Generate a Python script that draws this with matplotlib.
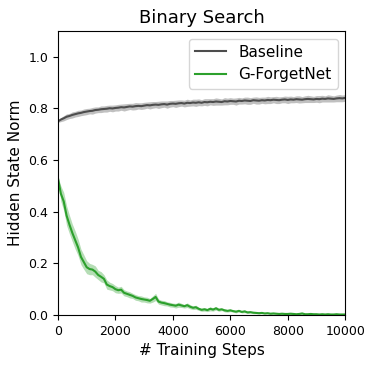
import numpy as np
import matplotlib.pyplot as plt

# training steps sampled every 100
steps = np.arange(0, 10001, 100)

baseline_mean = [
    0.750,
    0.757, 0.762, 0.768, 0.771, 0.775, 0.778, 0.781, 0.783, 0.786,
    0.788, 0.790, 0.791, 0.794, 0.795, 0.797, 0.798, 0.799, 0.801, 0.800,
    0.802, 0.803, 0.805, 0.804, 0.806, 0.808, 0.807, 0.809, 0.810, 0.809,
    0.811, 0.813, 0.812, 0.814, 0.815, 0.814, 0.816, 0.817, 0.815, 0.818,
    0.819, 0.818, 0.820, 0.821, 0.819, 0.822, 0.821, 0.823, 0.822, 0.824,
    0.822, 0.825, 0.824, 0.826, 0.825, 0.827, 0.826, 0.825, 0.828, 0.827,
    0.829, 0.828, 0.827, 0.830, 0.829, 0.831, 0.830, 0.829, 0.832, 0.831,
    0.830, 0.832, 0.831, 0.833, 0.832, 0.834, 0.833, 0.832, 0.834, 0.835,
    0.833, 0.835, 0.834, 0.836, 0.835, 0.834, 0.836, 0.837, 0.836, 0.835,
    0.837, 0.836, 0.838, 0.837, 0.839, 0.838, 0.837, 0.839, 0.840, 0.839,
    0.841,
]
baseline_std = [
    0.004,
    0.008, 0.010, 0.011, 0.010, 0.012, 0.011, 0.012, 0.011, 0.012,
    0.012, 0.011, 0.013, 0.012, 0.011, 0.013, 0.012, 0.013, 0.012, 0.013,
    0.012, 0.013, 0.012, 0.014, 0.013, 0.012, 0.013, 0.014, 0.012, 0.013,
    0.013, 0.012, 0.014, 0.013, 0.012, 0.014, 0.013, 0.012, 0.014, 0.013,
    0.012, 0.014, 0.013, 0.012, 0.013, 0.014, 0.012, 0.013, 0.014, 0.013,
    0.012, 0.013, 0.014, 0.012, 0.013, 0.014, 0.013, 0.012, 0.014, 0.013,
    0.013, 0.012, 0.014, 0.013, 0.012, 0.013, 0.014, 0.013, 0.012, 0.014,
    0.013, 0.012, 0.013, 0.014, 0.013, 0.012, 0.014, 0.013, 0.012, 0.013,
    0.014, 0.013, 0.012, 0.013, 0.014, 0.012, 0.013, 0.014, 0.013, 0.012,
    0.013, 0.014, 0.013, 0.012, 0.014, 0.013, 0.012, 0.013, 0.014, 0.013,
    0.013,
]

forget_mean = [
    0.530,
    0.470, 0.440, 0.385, 0.350, 0.318, 0.290, 0.262, 0.225, 0.205,
    0.185, 0.178, 0.176, 0.168, 0.155, 0.148, 0.140, 0.118, 0.112, 0.108,
    0.100, 0.096, 0.098, 0.086, 0.082, 0.078, 0.074, 0.068, 0.065, 0.062,
    0.060, 0.058, 0.055, 0.062, 0.070, 0.052, 0.048, 0.046, 0.043, 0.040,
    0.038, 0.036, 0.040, 0.037, 0.034, 0.038, 0.032, 0.028, 0.030, 0.024,
    0.020, 0.022, 0.019, 0.024, 0.021, 0.026, 0.020, 0.022, 0.018, 0.016,
    0.018, 0.015, 0.013, 0.016, 0.012, 0.014, 0.010, 0.011, 0.009, 0.008,
    0.007, 0.008, 0.006, 0.007, 0.005, 0.006, 0.005, 0.004, 0.005, 0.004,
    0.004, 0.005, 0.004, 0.003, 0.004, 0.006, 0.003, 0.003, 0.004, 0.003,
    0.003, 0.002, 0.003, 0.002, 0.003, 0.002, 0.002, 0.003, 0.002, 0.002,
    0.002,
]
forget_std = [
    0.005,
    0.030, 0.035, 0.038, 0.036, 0.034, 0.035, 0.032, 0.030, 0.028,
    0.025, 0.022, 0.020, 0.022, 0.018, 0.020, 0.016, 0.018, 0.015, 0.014,
    0.014, 0.012, 0.013, 0.012, 0.011, 0.012, 0.010, 0.011, 0.010, 0.012,
    0.010, 0.011, 0.009, 0.012, 0.014, 0.010, 0.009, 0.010, 0.008, 0.009,
    0.008, 0.009, 0.010, 0.008, 0.007, 0.009, 0.008, 0.007, 0.008, 0.006,
    0.006, 0.007, 0.006, 0.008, 0.006, 0.007, 0.006, 0.005, 0.006, 0.005,
    0.005, 0.004, 0.005, 0.004, 0.004, 0.005, 0.004, 0.003, 0.004, 0.003,
    0.003, 0.003, 0.002, 0.003, 0.002, 0.003, 0.002, 0.002, 0.003, 0.002,
    0.002, 0.003, 0.002, 0.002, 0.003, 0.003, 0.002, 0.002, 0.002, 0.002,
    0.002, 0.002, 0.002, 0.002, 0.002, 0.002, 0.002, 0.002, 0.002, 0.002,
    0.002,
]

series = [
    ("Baseline", baseline_mean, baseline_std, "#4d4d4d"),
    ("G-ForgetNet", forget_mean, forget_std, "#2ca02c"),
]

fig = plt.figure(figsize=(3.74, 3.65), dpi=100)
ax = fig.add_axes([0.155, 0.137, 0.768, 0.778])

for label, mean, std, color in series:
    mean = np.array(mean)
    std = np.array(std)
    ax.fill_between(steps, mean - std, mean + std, color=color, alpha=0.35, lw=0)
    ax.plot(steps, mean, color=color, lw=1.5, label=label)

ax.set_xlim(0, 10000)
ax.set_ylim(0, 1.1)
ax.set_xticks([0, 2000, 4000, 6000, 8000, 10000])
ax.set_yticks([0.0, 0.2, 0.4, 0.6, 0.8, 1.0])
ax.tick_params(labelsize=9)
ax.set_xlabel("# Training Steps", fontsize=11)
ax.set_ylabel("Hidden State Norm", fontsize=11)
ax.set_title("Binary Search", fontsize=13)
ax.legend(loc="upper right", fontsize=11)

fig.savefig("out.png", dpi=100)
